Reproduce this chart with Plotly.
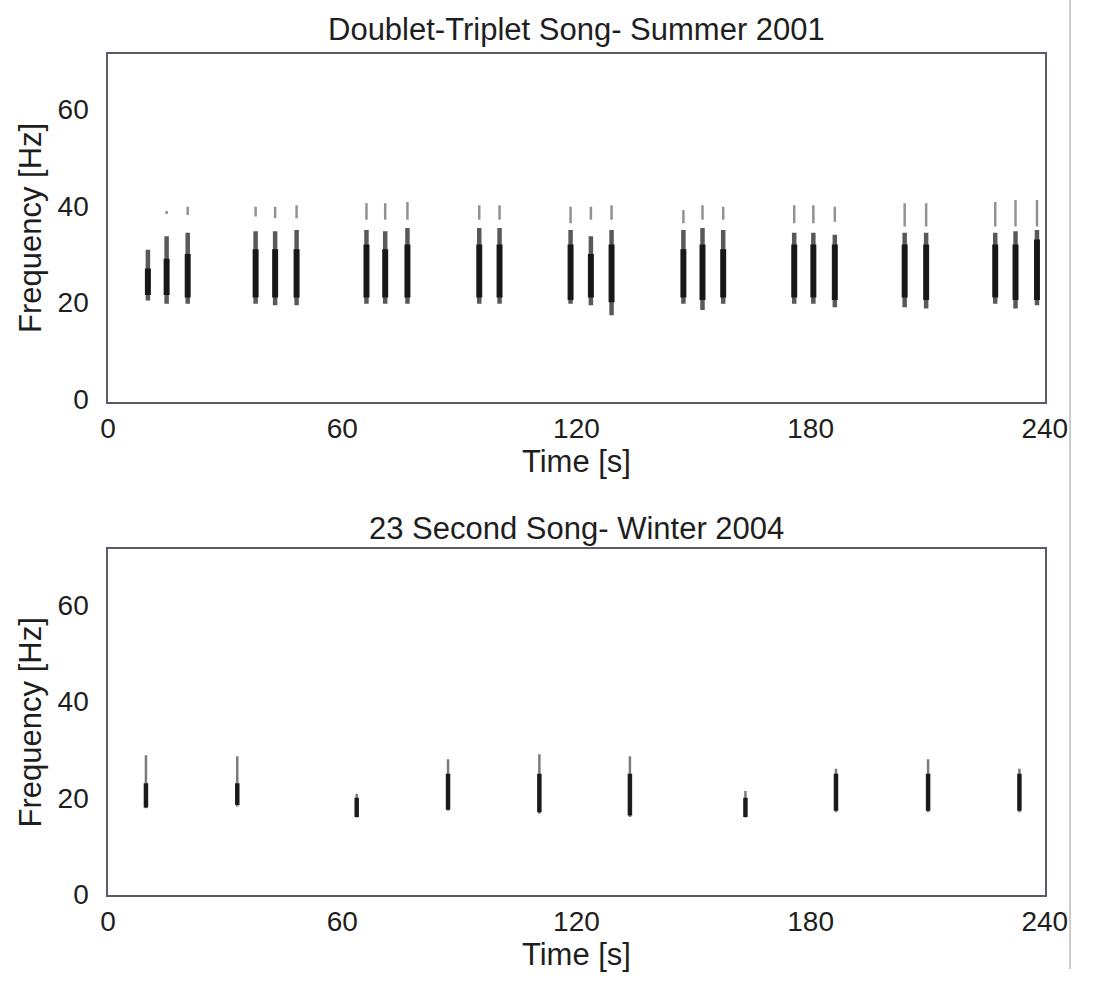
import plotly.graph_objects as go

# ---------------- data ----------------
# Top panel: Doublet-Triplet Song - Summer 2001
top_times = [10.2, 15.0, 20.4, 37.8, 42.8, 48.3, 66.2, 71.0, 76.7, 95.1, 100.3,
             118.5, 123.7, 129.0, 147.4, 152.3, 157.6, 175.8, 180.7, 186.2,
             204.1, 209.6, 227.3, 232.5, 238.0]
top_body_low = [20.4, 19.7, 19.7, 19.7, 19.4, 19.4, 19.7, 19.7, 19.7, 19.7, 19.7,
                19.7, 19.4, 17.3, 19.7, 18.4, 19.7, 19.7, 19.7, 19.0,
                19.0, 18.7, 19.7, 18.7, 19.4]
top_body_high = [30.9, 33.7, 34.4, 34.7, 34.7, 35.0, 35.0, 34.7, 35.4, 35.4, 35.4,
                 35.0, 33.7, 35.0, 35.0, 35.4, 35.0, 34.4, 34.4, 34.0,
                 34.4, 34.4, 34.4, 34.7, 35.0]
top_core_low = [21.5, 21.5, 21.0, 21.0, 21.0, 21.0, 21.0, 21.0, 21.0, 21.0, 21.0,
                20.5, 21.0, 20.0, 21.0, 20.5, 21.0, 21.0, 21.0, 20.5,
                21.0, 20.5, 21.0, 20.5, 20.5]
top_core_high = [27.0, 29.0, 30.0, 31.0, 31.0, 31.0, 32.0, 31.0, 32.0, 32.0, 32.0,
                 32.0, 30.0, 32.0, 31.0, 32.0, 31.0, 32.0, 32.0, 32.0,
                 32.0, 32.0, 32.0, 32.0, 33.0]
top_harm_low = [None, 38.3, 38.1, 37.8, 37.4, 37.4, 37.1, 37.1, 37.1, 37.1, 37.1,
                36.4, 37.1, 37.1, 36.4, 37.1, 37.1, 36.4, 36.4, 36.7,
                35.7, 35.7, 35.7, 35.7, 35.7]
top_harm_high = [None, 38.9, 39.8, 39.8, 39.8, 40.1, 40.5, 40.5, 40.8, 40.1, 40.1,
                 39.8, 39.8, 40.1, 39.1, 40.1, 39.8, 40.1, 40.1, 39.8,
                 40.5, 40.5, 40.8, 41.2, 41.2]

# Bottom panel: 23 Second Song - Winter 2004
bot_times = [9.7, 33.1, 63.7, 87.1, 110.5, 133.7, 163.3, 186.5, 210.1, 233.5]
bot_body_low = [17.8, 18.2, 15.9, 17.3, 16.7, 16.0, 15.9, 17.0, 17.0, 17.0]
bot_body_high = [28.8, 28.6, 20.8, 28.0, 29.0, 28.6, 21.4, 26.0, 28.0, 26.0]
bot_core_low = [18.0, 18.5, 16.0, 17.5, 17.0, 16.3, 16.0, 17.3, 17.3, 17.3]
bot_core_high = [23.0, 23.0, 20.0, 25.0, 25.0, 25.0, 20.0, 25.0, 25.0, 25.0]

x_ticks = [0, 60, 120, 180, 240]
y_ticks = [0, 20, 40, 60]

titles = ["Doublet-Triplet Song- Summer 2001", "23 Second Song- Winter 2004"]
x_title = "Time [s]"
y_title = "Frequency [Hz]"


def segments(times, lows, highs):
    xs, ys = [], []
    for t, lo, hi in zip(times, lows, highs):
        if lo is None or hi is None:
            continue
        xs += [t, t, None]
        ys += [lo, hi, None]
    return xs, ys


fig = go.Figure()

FONT = "Liberation Sans, Arial, Helvetica, sans-serif"
TXT = "#1e1e1e"


def add_layer(times, lows, highs, color, width, xa, ya):
    xs, ys = segments(times, lows, highs)
    fig.add_trace(go.Scatter(x=xs, y=ys, mode="lines",
                             line=dict(color=color, width=width),
                             xaxis=xa, yaxis=ya, showlegend=False,
                             hoverinfo="skip"))


# top panel
add_layer(top_times, top_harm_low, top_harm_high, "rgba(110,110,110,0.75)", 2.5, "x", "y")
add_layer(top_times, top_body_low, top_body_high, "rgba(60,60,60,0.85)", 4.5, "x", "y")
add_layer(top_times, top_core_low, top_core_high, "rgba(20,20,20,0.95)", 6, "x", "y")
# bottom panel
add_layer(bot_times, bot_body_low, bot_body_high, "rgba(90,90,90,0.8)", 2.5, "x2", "y2")
add_layer(bot_times, bot_core_low, bot_core_high, "rgba(20,20,20,0.95)", 4.5, "x2", "y2")

x_dom = [103 / 1095, 1067 / 1095]
top_dom = [1 - 408 / 984, 1 - 55 / 984]
bot_dom = [1 - 909 / 984, 1 - 558 / 984]

axis_common = dict(
    showline=True, mirror=True, linecolor="#5a5a6a", linewidth=1.5,
    showgrid=False, zeroline=False, ticks="",
    tickfont=dict(family=FONT, size=28, color=TXT),
)

xa = dict(axis_common, range=[0, 240], tickvals=x_ticks, domain=x_dom,
          ticklabelstandoff=1,
          title=dict(text=x_title, font=dict(family=FONT, size=31, color=TXT),
                     standoff=0))
ya = dict(axis_common, range=[-0.6, 71.4], tickvals=y_ticks,
          ticklabelstandoff=12,
          title=dict(text=y_title, font=dict(family=FONT, size=31, color=TXT),
                     standoff=7))

fig.update_layout(
    width=1095, height=984,
    margin=dict(l=0, r=0, t=0, b=0),
    paper_bgcolor="white", plot_bgcolor="white",
    xaxis=dict(xa, anchor="y"),
    yaxis=dict(ya, domain=top_dom, anchor="x"),
    xaxis2=dict(xa, anchor="y2"),
    yaxis2=dict(ya, domain=bot_dom, anchor="x2", range=[-0.2, 71.5]),
    annotations=[
        dict(text=titles[0], x=585 / 1095, y=1 - 30 / 984, xref="paper", yref="paper",
             showarrow=False, font=dict(family=FONT, size=31, color=TXT),
             xanchor="center", yanchor="middle"),
        dict(text=titles[1], x=585 / 1095, y=1 - 537 / 984, xref="paper", yref="paper",
             showarrow=False, font=dict(family=FONT, size=31, color=TXT),
             xanchor="center", yanchor="middle"),
    ],
    shapes=[
        dict(type="line", xref="paper", yref="paper", x0=1093 / 1095, x1=1093 / 1095,
             y0=0, y1=1, line=dict(color="#bbbbbb", width=1.5)),
    ],
)

fig.write_html("out.html")
